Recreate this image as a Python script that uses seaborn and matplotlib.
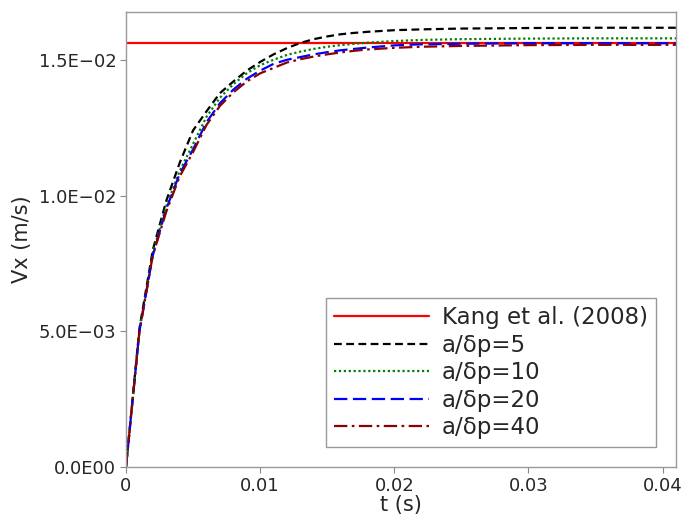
import numpy as np
import pandas as pd
import seaborn as sns
import matplotlib
matplotlib.use("Agg")
import matplotlib.pyplot as plt

# ---- data ----
t = [0, 0.001, 0.002, 0.003, 0.004, 0.005, 0.006, 0.007, 0.008, 0.009, 0.010,
     0.011, 0.012, 0.013, 0.014, 0.015, 0.016, 0.017, 0.018, 0.020, 0.022,
     0.025, 0.030, 0.035, 0.041]
v_p5 = [0, 0.0051, 0.0080, 0.0098, 0.0112, 0.0124, 0.0131, 0.01377, 0.0142, 0.0146, 0.01492,
        0.0152, 0.01543, 0.01562, 0.01576, 0.01586, 0.01594, 0.01599, 0.01603, 0.01609, 0.01612,
        0.01615, 0.01617, 0.01618, 0.01618]
v_p10 = [0, 0.0050, 0.0079, 0.0096, 0.0109, 0.0119, 0.0129, 0.0136, 0.0141, 0.0145, 0.0148,
         0.0150, 0.01518, 0.0153, 0.01540, 0.01548, 0.01554, 0.01559, 0.01563, 0.01569, 0.01573,
         0.01576, 0.01578, 0.01579, 0.01579]
v_p20 = [0, 0.0050, 0.0078, 0.0095, 0.0108, 0.0117, 0.0127, 0.0134, 0.0139, 0.0143, 0.0146,
         0.01485, 0.0150, 0.0151, 0.01520, 0.01528, 0.01535, 0.01540, 0.01545, 0.01553, 0.01557,
         0.01559, 0.01561, 0.01561, 0.01561]
v_p40 = [0, 0.0050, 0.0078, 0.0094, 0.0107, 0.0116, 0.0126, 0.0133, 0.0138, 0.0142, 0.0145,
         0.0147, 0.01490, 0.01502, 0.01512, 0.0152, 0.01527, 0.01533, 0.01538, 0.01544, 0.01548,
         0.01551, 0.01554, 0.01555, 0.01555]
kang_t = [0, 0.041]
kang_v = [0.01563, 0.01563]

labels = ["Kang et al. (2008)", "a/\u03b4p=5", "a/\u03b4p=10", "a/\u03b4p=20", "a/\u03b4p=40"]
xticks = [0, 0.01, 0.02, 0.03, 0.04]
xticklabels = ["0", "0.01", "0.02", "0.03", "0.04"]
yticks = [0, 0.005, 0.010, 0.015]
yticklabels = ["0.0E00", "5.0E\u221203", "1.0E\u221202", "1.5E\u221202"]

sns.set_theme(style="white")
plt.rcParams['font.family'] = ['DejaVu Sans']

fig = plt.figure(figsize=(6.85, 5.27), dpi=100)
ax = fig.add_axes([126 / 685, 1 - 467 / 527, (676 - 126) / 685, (467 - 12) / 527])

sns.lineplot(x=kang_t, y=kang_v, ax=ax, color="red", lw=1.6, label=labels[0])
sns.lineplot(x=t, y=v_p5, ax=ax, color="black", lw=1.6, label=labels[1])
sns.lineplot(x=t, y=v_p10, ax=ax, color="green", lw=1.6, label=labels[2])
sns.lineplot(x=t, y=v_p20, ax=ax, color="blue", lw=1.6, label=labels[3])
sns.lineplot(x=t, y=v_p40, ax=ax, color="darkred", lw=1.6, label=labels[4])

lines = ax.get_lines()
lines[1].set_linestyle((0, (3.5, 2)))
lines[2].set_linestyle((0, (1, 1.2)))
lines[3].set_linestyle((0, (6, 2.5)))
lines[4].set_linestyle((0, (6, 2, 1.2, 2)))

ax.set_xlim(0, 0.041)
ax.set_ylim(0, 0.01676)
ax.set_xticks(xticks)
ax.set_xticklabels(xticklabels)
ax.set_yticks(yticks)
ax.set_yticklabels(yticklabels)
ax.tick_params(axis="both", labelsize=13, length=4, width=0.8, color="#888888",
               direction="out", bottom=True, left=True, pad=3)
for s in ax.spines.values():
    s.set_color("#999999")
    s.set_linewidth(1.0)
ax.set_xlabel("t (s)", fontsize=15, labelpad=0)
ax.set_ylabel("Vx (m/s)", fontsize=15, labelpad=5)

leg = ax.legend(loc="lower right", bbox_to_anchor=(0.9636, 0.0433), borderaxespad=0,
                fontsize=16.5, frameon=True, fancybox=False, framealpha=1,
                edgecolor="#999999", handlelength=4.15, handletextpad=0.58,
                borderpad=0.35, labelspacing=0.2)
leg.get_frame().set_linewidth(1.0)

fig.savefig("out.png", dpi=100)
